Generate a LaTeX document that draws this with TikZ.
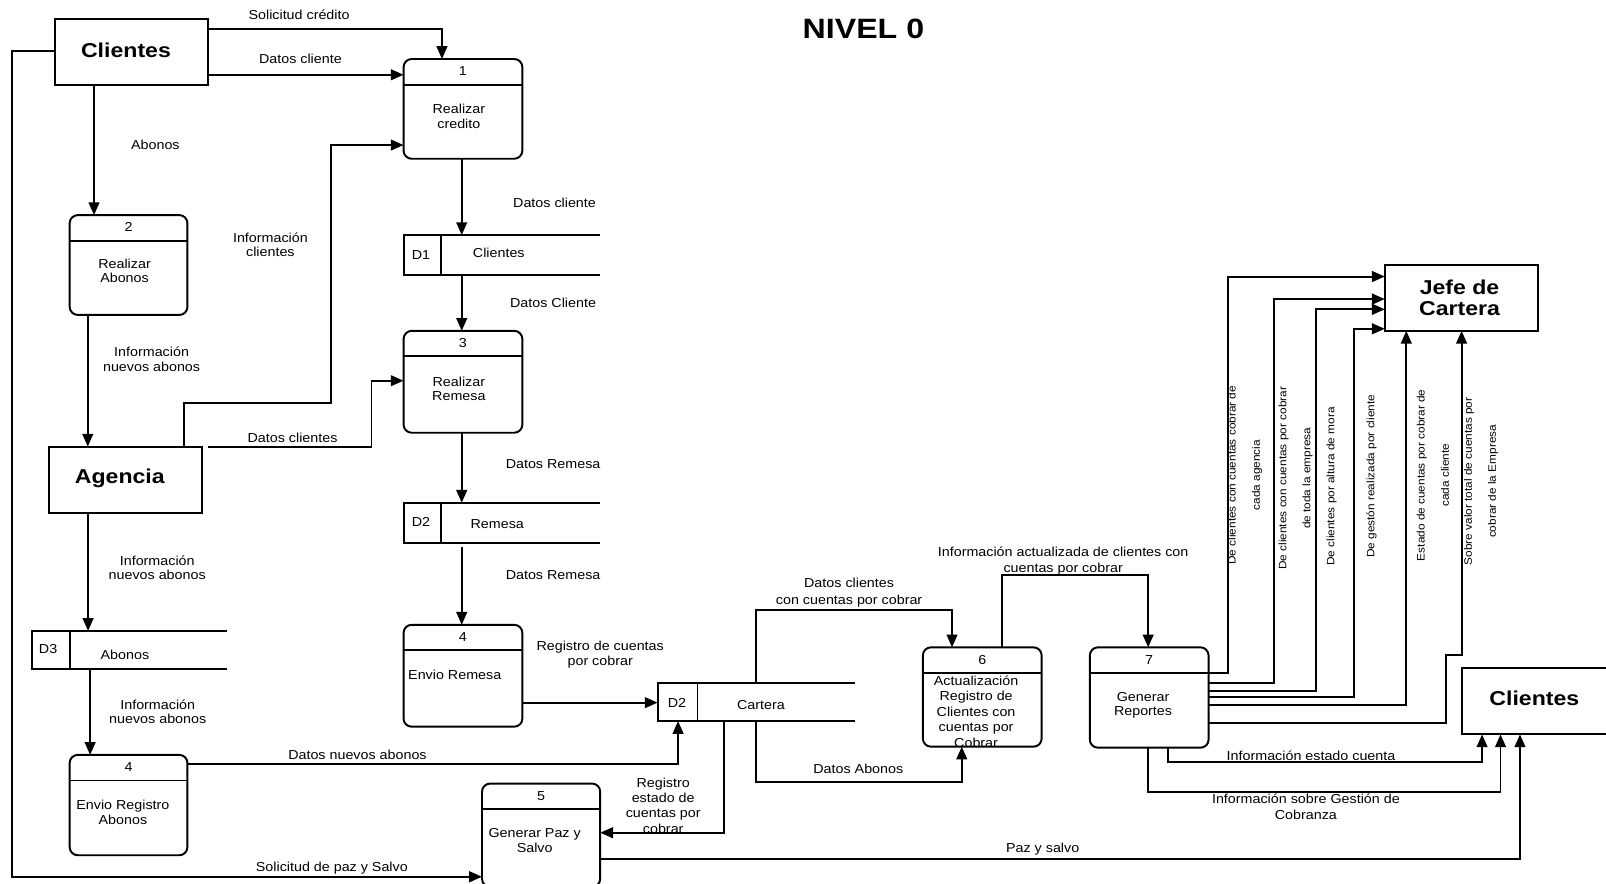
\documentclass[tikz,border=0pt]{standalone}
\usepackage{fontspec}
\setmainfont{Liberation Sans}[FakeStretch=1.1]
\newfontfamily\headfont{Liberation Sans}[FakeStretch=1.15]
\usetikzlibrary{arrows.meta,calc,fit}

\tikzset{
  wire/.style={line width=1.9pt},
  flow/.style={wire, -{Triangle[length=12.5pt,width=10.5pt]}},
  entity/.style={draw, line width=1.9pt, inner sep=0pt, outer sep=0pt},
  proc/.style={draw, line width=1.9pt, rounded corners=8pt, inner sep=0pt, outer sep=0pt},
  store/.style={inner sep=0pt, outer sep=0pt},
  lbl/.style={font=\fontsize{12.7}{14.3}\selectfont, align=center, inner sep=0pt},
  enttxt/.style={font=\headfont\bfseries\fontsize{19.6}{20.7}\selectfont, align=center, inner sep=0pt},
  vlbl/.style={font=\fontsize{10.5}{23.5}\selectfont, align=center, inner sep=0pt, rotate=90},
}

% process: name, left, top, right, bottom, number
\newcommand\procnode[6]{%
  \node[proc, fit={(#2,#3) (#4,#5)}] (#1) {};
  \draw[wire] ($(#1.north west)+(0,25)$) -- ($(#1.north east)+(0,25)$);
  \node[lbl] (#1-num) at ($(#1.north)+(0,12)$) {#6};
}
% data store: name, left, top, right, bottom, divider x
\newcommand\storenode[6]{%
  \node[store, fit={(#2,#3) (#4,#5)}] (#1) {};
  \draw[wire] (#1.north east) -- (#1.north west) -- (#1.south west) -- (#1.south east);
  \draw[wire] (#6,0 |- #1.north) -- (#6,0 |- #1.south);
}

\begin{document}
\begin{tikzpicture}[x=1pt,y=-1pt]
\useasboundingbox (0,0) rectangle (1568,863);
\clip (0,0) rectangle (1568,863);

% title
\node[font=\headfont\bfseries\fontsize{27.3}{30}\selectfont, inner sep=0pt] (title) at (843,28.6) {NIVEL 0};

% external entities
\node[entity, fit={(54,18.6) (203,83)}] (cliA) {};
\node[enttxt] (cliA-t) at (123,49.5) {Clientes};
\node[entity, fit={(48,436) (197,500.5)}] (agen) {};
\node[enttxt] (agen-t) at (117,467) {Agencia};
\node[entity, fit={(1352,259) (1502,323)}] (jefe) {};
\node[enttxt] (jefe-t) at (1425,290.5) {Jefe de\\Cartera};
\node[entity, fit={(1427.5,652) (1580,717)}] (cliB) {};
\node[enttxt] (cliB-t) at (1498,682) {Clientes};

% processes
\procnode{p1}{394}{57.6}{510}{155}{1}
\node[lbl] (p1-t) at (448,113.4) {Realizar\\credito};
\procnode{p2}{68}{210}{183}{307.5}{2}
\node[lbl] (p2-t) at (121.6,264.3) {Realizar\\Abonos};
\procnode{p3}{394}{323}{510}{422.5}{3}
\node[lbl] (p3-t) at (448,379.5) {Realizar\\Remesa};
\procnode{p4r}{394}{610}{510}{709.5}{4}
\node[lbl] (p4r-t) at (444,659) {Envio Remesa};
\procnode{p4a}{68}{737}{183}{835}{4}
\node[lbl] (p4a-t) at (120,793) {Envio Registro\\Abonos};
\procnode{p5}{470.6}{765}{586}{866}{5}
\node[lbl] (p5-t) at (522,820.5) {Generar Paz y\\Salvo};
\procnode{p6}{901}{632}{1017}{729}{6}
\node[lbl, font=\fontsize{12.7}{15.1}\selectfont] (p6-t) at (953,694.8) {Actualización\\Registro de\\Clientes con\\cuentas por\\Cobrar};
\procnode{p7}{1064}{632}{1180}{730}{7}
\node[lbl] (p7-t) at (1116,688.5) {Generar\\Reportes};

% data stores
\storenode{d1}{394}{229.5}{586}{268.5}{431}
\node[lbl] (d1-id) at (411,249) {D1};
\node[lbl] (d1-t) at (487,246.7) {Clientes};
\storenode{d2r}{394}{490.8}{586}{530}{431}
\node[lbl] (d2r-id) at (411,510) {D2};
\node[lbl] (d2r-t) at (485.5,512) {Remesa};
\storenode{d3}{31}{616}{222}{653}{68}
\node[lbl] (d3-id) at (47,633.6) {D3};
\node[lbl] (d3-t) at (122,639.5) {Abonos};
\storenode{d2c}{642}{667}{835}{704}{681}
\node[lbl] (d2c-id) at (661,686) {D2};
\node[lbl] (d2c-t) at (743,688) {Cartera};

% flows on the left half
\draw[flow] (cliA.east |- 0,28.3) -- (431.5,28.3) -- (431.5,0 |- p1.north);
\node[lbl] (l-a) at (292,14.6) {Solicitud crédito};
\draw[flow] (cliA.east |- 0,73) -- (p1.west |- 0,73);
\node[lbl] (l-b) at (293.3,57.6) {Datos cliente};
\draw[flow] (91.8,0 |- cliA.south) -- (91.8,0 |- p2.north);
\node[lbl] (l-c) at (151.7,141.6) {Abonos};
\draw[flow] (cliA.west |- 0,49.5) -- (11.6,49.5) -- (11.6,856) -- (p5.west |- 0,856);
\node[lbl] (l-d) at (324,847.5) {Solicitud de paz y Salvo};
\draw[flow] (85.7,0 |- p2.south) -- (85.7,0 |- agen.north);
\node[lbl] (l-e) at (148,351) {Información\\nuevos abonos};
\draw[flow] (179.5,0 |- agen.north) -- (179.5,393) -- (323.5,393) -- (323.5,141.6) -- (p1.west |- 0,141.6);
\node[lbl] (l-f) at (264,239) {Información\\clientes};
\draw[flow] ($(agen.north east)+(5.6,0)$) -- (362.7,436) -- (362.7,371.7) -- (p3.west |- 0,371.7);
\node[lbl] (l-g) at (285.6,427.7) {Datos clientes};
\draw[flow] (450.8,0 |- p1.south) -- (450.8,0 |- d1.north);
\node[lbl] (l-h) at (541.4,198) {Datos cliente};
\draw[flow] (450.8,0 |- d1.south) -- (450.8,0 |- p3.north);
\node[lbl] (l-i) at (540,295.5) {Datos Cliente};
\draw[flow] (450.8,0 |- p3.south) -- (450.8,0 |- d2r.north);
\node[lbl] (l-j) at (540,453) {Datos Remesa};
\draw[flow] ($(450.8,0 |- d2r.south)+(0,3.7)$) -- (450.8,0 |- p4r.north);
\node[lbl] (l-k) at (540,561.5) {Datos Remesa};
\draw[flow] (86,0 |- agen.south) -- (86,0 |- d3.north);
\node[lbl] (l-l) at (153.5,554.4) {Información\\nuevos abonos};
\draw[flow] (88,0 |- d3.south) -- (88,0 |- p4a.north);
\node[lbl] (l-m) at (154,695) {Información\\nuevos abonos};
\draw[flow] (p4a.east |- 0,746) -- (662,746) -- (662,0 |- d2c.south);
\node[lbl] (l-n) at (349,737) {Datos nuevos abonos};
\draw[flow] (p4r.east |- 0,686) -- (d2c.west |- 0,686);
\node[lbl] (l-o) at (586,639.2) {Registro de cuentas\\por cobrar};
\draw[flow] (707,0 |- d2c.south) -- (707,813) -- (p5.east |- 0,813);
\node[lbl, font=\fontsize{12.7}{15}\selectfont] (l-p) at (647.5,786.5) {Registro\\estado de\\cuentas por\\cobrar};

% flows around Cartera, 6 and 7
\draw[flow] (738,0 |- d2c.north) -- (738,596) -- (929.5,596) -- (929.5,0 |- p6.north);
\node[lbl, font=\fontsize{12.7}{16}\selectfont] (l-q) at (829,578.5) {Datos clientes\\con cuentas por cobrar};
\draw[flow] (738,0 |- d2c.south) -- (738,763.5) -- (939,763.5) -- (939,0 |- p6.south);
\node[lbl] (l-r) at (838,751) {Datos Abonos};
\draw[flow] (978,0 |- p6.north) -- (978,561.5) -- (1121,561.5) -- (1121,0 |- p7.north);
\node[lbl, font=\fontsize{12.7}{16}\selectfont] (l-s) at (1038,548) {Información actualizada de clientes con\\cuentas por cobrar};

% reports to Jefe de Cartera
\draw[flow] (p7.east |- 0,657) -- (1199,657) -- (1199,270) -- (jefe.west |- 0,270);
\draw[flow] (p7.east |- 0,667) -- (1244,667) -- (1244,292) -- (jefe.west |- 0,292);
\draw[flow] (p7.east |- 0,675) -- (1285,675) -- (1285,302) -- (jefe.west |- 0,302);
\draw[flow] (p7.east |- 0,680.5) -- (1322,680.5) -- (1322,321) -- (jefe.west |- 0,321);
\draw[flow] (p7.east |- 0,688) -- (1373,688) -- (1373,0 |- jefe.south);
\draw[flow] (p7.east |- 0,706) -- (1412,706) -- (1412,639.5) -- (1427,639.5) -- (1427,0 |- jefe.south);
\node[vlbl] (v1) at (1215.5,464) {De clientes con cuentas cobrar de\\cada agencia};
\node[vlbl] (v2) at (1265,467) {De clientes con cuentas por cobrar\\de toda la empresa};
\node[vlbl] (v3) at (1300,475) {De clientes por altura de mora};
\node[vlbl] (v4) at (1339,465) {De gestón realizada por cliente};
\node[vlbl] (v5) at (1399,464) {Estado de cuentas por cobrar de\\cada cliente};
\node[vlbl] (v6) at (1446,470) {Sobre valor total de cuentas por\\cobrar de la Empresa};

% flows to Clientes (right)
\draw[flow] (1140.5,0 |- p7.south) -- (1140.5,744) -- (1447,744) -- (1447,0 |- cliB.south);
\node[lbl] (l-u) at (1280,738) {Información estado cuenta};
\draw[flow] (1121,0 |- p7.south) -- (1121,773) -- (1465,773) -- (1465,0 |- cliB.south);
\node[lbl, font=\fontsize{12.7}{15}\selectfont] (l-v) at (1275,787.5) {Información sobre Gestión de\\Cobranza};
\draw[flow] (p5.east |- 0,839) -- (1484,839) -- (1484,0 |- cliB.south);
\node[lbl] (l-w) at (1018,829) {Paz y salvo};
\end{tikzpicture}
\end{document}
